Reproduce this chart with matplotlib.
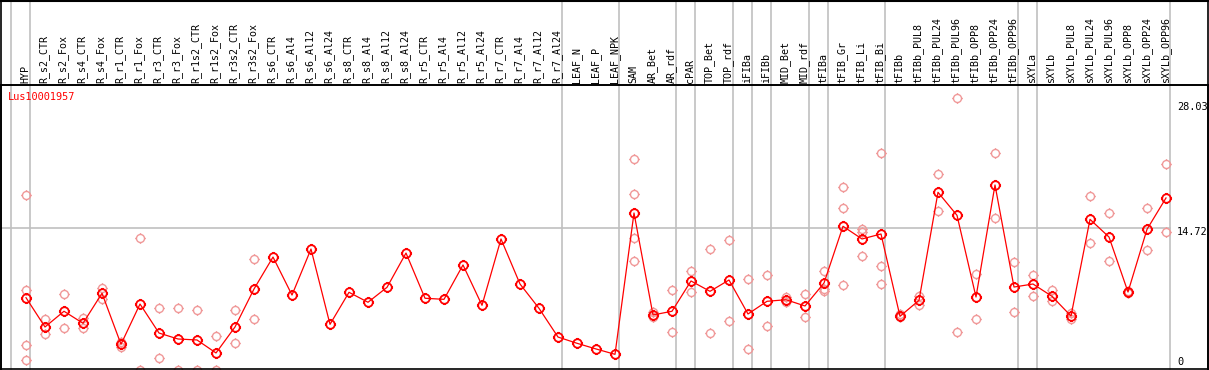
import matplotlib
matplotlib.use("Agg")
import matplotlib.pyplot as plt
from matplotlib.path import Path
import numpy as np

categories = ["HYP", "R_s2_CTR", "R_s2_Fox", "R_s4_CTR", "R_s4_Fox", "R_r1_CTR", "R_r1_Fox",
              "R_r3_CTR", "R_r3_Fox", "R_r1s2_CTR", "R_r1s2_Fox", "R_r3s2_CTR", "R_r3s2_Fox",
              "R_s6_CTR", "R_s6_Al4", "R_s6_Al12", "R_s6_Al24", "R_s8_CTR", "R_s8_Al4",
              "R_s8_Al12", "R_s8_Al24", "R_r5_CTR", "R_r5_Al4", "R_r5_Al12", "R_r5_Al24",
              "R_r7_CTR", "R_r7_Al4", "R_r7_Al12", "R_r7_Al24", "LEAF_N", "LEAF_P", "LEAF_NPK",
              "SAM", "AR_Bet", "AR_rdf", "cPAR", "TOP_Bet", "TOP_rdf", "iFIBa", "iFIBb",
              "MID_Bet", "MID_rdf", "tFIBa", "tFIB_Gr", "tFIB_Li", "tFIB_Bi", "tFIBb",
              "tFIBb_PUL8", "tFIBb_PUL24", "tFIBb_PUL96", "tFIBb_OPP8", "tFIBb_OPP24",
              "tFIBb_OPP96", "sXYLa", "sXYLb", "sXYLb_PUL8", "sXYLb_PUL24", "sXYLb_PUL96",
              "sXYLb_OPP8", "sXYLb_OPP24", "sXYLb_OPP96"]

means = [7.62, 4.62, 6.23, 5.00, 8.07, 2.85, 6.97, 4.00, 3.39, 3.29, 1.96, 4.62, 8.51,
         11.78, 7.89, 12.60, 4.89, 8.17, 7.15, 8.68, 12.19, 7.56, 7.45, 10.97, 6.84,
         13.63, 9.02, 6.53, 3.59, 2.95, 2.37, 1.82,
         16.29, 5.85, 6.23, 9.33, 8.27, 9.43, 5.95, 7.25, 7.41, 6.77, 9.12, 14.93, 13.63,
         14.14, 5.71, 7.35, 18.41, 16.05, 7.69, 19.16, 8.71, 9.02, 7.76, 5.74, 15.64,
         13.83, 8.20, 14.62, 17.83]

replicates = [
    [18.13, 8.38, 2.74, 1.21], [5.41, 3.87], [7.97, 4.48], [5.57, 4.55], [8.64, 7.48],
    [3.05, 2.54], [13.70, 0.2], [6.53, 1.41], [6.53, 0.2], [6.33, 0.2], [3.67, 0.2],
    [6.33, 2.95], [11.55, 5.41],
    [], [], [], [], [], [], [], [], [], [], [], [], [], [], [], [], [], [], [],
    [21.79, 18.20, 13.70, 11.34], [6.18, 5.61], [8.38, 4.07], [10.32, 8.23],
    [12.57, 3.97], [13.49, 5.20], [9.50, 2.33], [9.91, 4.69], [7.72, 7.18],
    [7.97, 5.61], [10.32, 8.48, 8.27], [18.92, 16.77, 8.92], [14.68, 14.34, 11.89],
    [22.43, 10.86, 9.02], [5.92, 5.61], [7.79, 6.90], [20.25, 16.46], [28.03, 4.07],
    [10.04, 5.44], [22.43, 15.78], [11.27, 6.15], [9.94, 7.79], [8.38, 7.25],
    [6.08, 5.41], [18.00, 13.19], [16.26, 11.34], [8.30, 8.10], [16.80, 12.47],
    [21.31, 14.31]]

group_ends = [-1, 0, 28, 31, 34, 35, 37, 38, 39, 41, 42, 45, 52, 53, 60]
axis_labels = ["28.03", "14.72", "0"]
title = "Lus10001957"
mid_value = 14.72

W, H = 1209, 370
fig = plt.figure(figsize=(W / 100, H / 100), dpi=100)
fig.patch.set_facecolor("white")

def px(x, y):
    return x / W, 1 - y / H

ax = fig.add_axes([1 / W, 1 / H, 1207 / W, 284 / H])
ax.set_xlim((1 - 26) / 19, (1208 - 26) / 19)
ax.set_ylim((372.1 - 369) / 9.767, (372.1 - 85) / 9.767)
ax.set_xticks([])
ax.set_yticks([])
for s in ax.spines.values():
    s.set_color("black")
    s.set_linewidth(1.2)

grey = "#c0c0c0"
x = np.arange(len(categories))
xr = x[-1] + 0.22

# horizontal grid line
ax.plot([ax.get_xlim()[0], xr], [mid_value, mid_value], color=grey, lw=1.2, zorder=1)

# group separator lines (extend into label band)
ext = 369 / 284
for g in group_ends:
    ax.axvline(g + 0.23, ymin=0, ymax=ext, color=grey, lw=1.2, clip_on=False, zorder=1)

# black separator line under labels
fig.add_artist(plt.Line2D([0, 1], [1 - 85 / H, 1 - 85 / H], color="black", lw=1.2))
fig.add_artist(plt.Line2D([1 / W, 1 / W], [0, 1], color="black", lw=1.2))
fig.add_artist(plt.Line2D([1208 / W, 1208 / W], [0, 1], color="black", lw=1.2))
fig.add_artist(plt.Line2D([0, 1], [1 - 0.5 / H, 1 - 0.5 / H], color="black", lw=1.5))

# custom marker: circle with small ticks
circ = Path.unit_circle()
ticks = []
for dx, dy in [(0, 1), (0, -1), (1, 0), (-1, 0)]:
    ticks.append(Path([(dx * 1.0, dy * 1.0), (dx * 1.3, dy * 1.3)], [Path.MOVETO, Path.LINETO]))
marker = Path.make_compound_path(circ, *ticks)

rx, ry = [], []
for i, reps in enumerate(replicates):
    for v in reps:
        rx.append(i)
        ry.append(v)
ax.plot(rx, ry, linestyle="none", marker=marker, markersize=7.5, markerfacecolor="none",
        markeredgecolor="#f09898", markeredgewidth=1.0, zorder=2)

ax.plot(x, means, color="red", lw=0.9, marker=marker, markersize=8,
        markerfacecolor="none", markeredgecolor="red", markeredgewidth=1.3, zorder=3)

mono = "DejaVu Sans Mono"
for i, c in enumerate(categories):
    fx, fy = px(26 + 19 * i - 0.8, 83)
    fig.text(fx, fy, c, rotation=90, ha="center", va="bottom", fontsize=7.2,
             family=mono, color="black")

tx, ty = px(8, 92)
fig.text(tx, ty, title, color="red", fontsize=7.4, family=mono, ha="left", va="top")

for lab, yy in zip(axis_labels, [106.7, 232.3, 361.7]):
    lx, ly = px(1177, yy)
    fig.text(lx, ly, lab, fontsize=7.4, family=mono, ha="left", va="center", color="black")

fig.savefig("out.png", dpi=100, facecolor="white")
